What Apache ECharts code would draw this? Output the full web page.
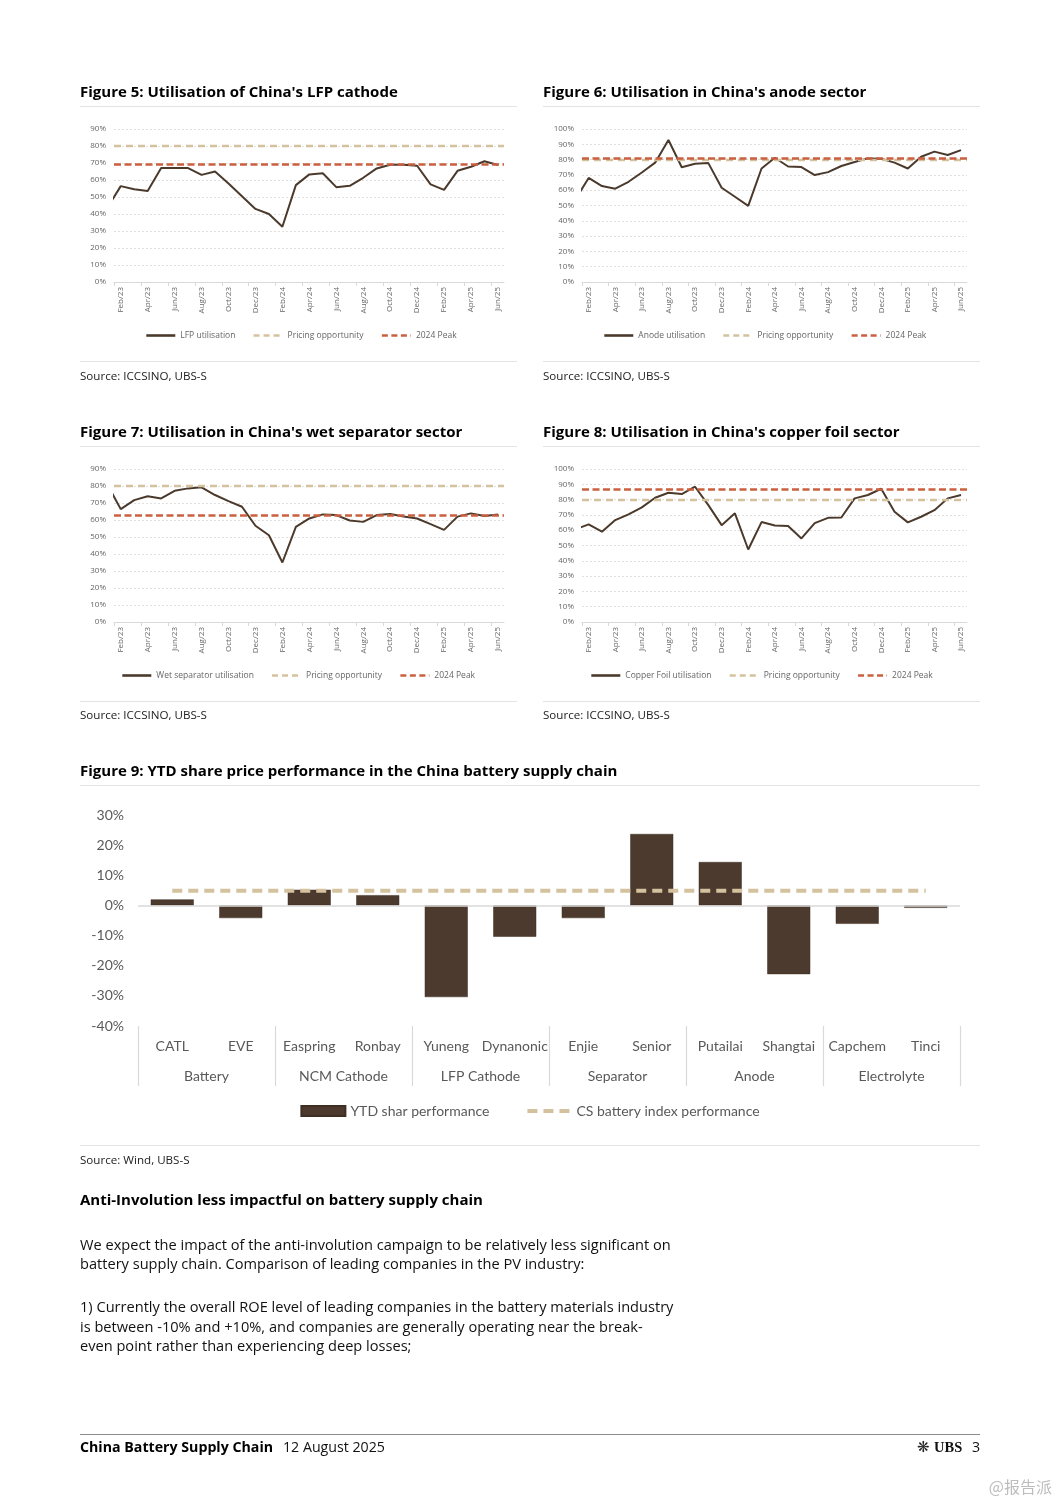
<!DOCTYPE html>
<html>
<head>
<meta charset="utf-8">
<script src="https://cdn.jsdelivr.net/npm/echarts@6/dist/echarts.min.js"></script>
<style>
html,body{margin:0;padding:0;background:#fff;}
#c{width:1060px;height:1500px;}
</style>
</head>
<body>
<div id="c"></div>
<script>
// ---------- DATA ----------
const months = ['Jan/23','Feb/23','Mar/23','Apr/23','May/23','Jun/23','Jul/23','Aug/23','Sep/23','Oct/23','Nov/23','Dec/23',
                'Jan/24','Feb/24','Mar/24','Apr/24','May/24','Jun/24','Jul/24','Aug/24','Sep/24','Oct/24','Nov/24','Dec/24',
                'Jan/25','Feb/25','Mar/25','Apr/25','May/25','Jun/25'];

const lfpUtil    = [43.5,56.4,54.6,53.5,67,67,67,63,65,58,50.5,43,40,32.5,57,63.3,64,55.8,56.6,61.3,66.8,69,69,68.4,57.4,54.2,65.4,67.8,71,68.8];
const anodeUtil  = [54,68,62.7,61,65.5,71.6,78,92.8,75,77.3,77.7,61.6,55.7,49.8,74.2,81.2,75.5,75.1,69.9,71.8,75.8,78.4,80.8,80.6,78,74.2,81.9,85.2,83,86.2];
const wetSepUtil = [81,66.4,71.7,74,72.7,77.2,78.6,79.2,74.7,71.1,67.8,56.6,51,35,56,60.9,63.3,62.9,59.7,58.9,62.9,63.5,62,60.9,57.6,54.2,62,63.9,62.3,63.3];
const copperUtil = [60.6,63.8,59,66.6,70.3,74.9,81.2,84.5,83.6,88.4,76.4,63.3,71,47.4,65.3,63.1,62.7,54.6,64.6,68.1,68.3,80.8,83,87.1,72,65.1,68.8,73.1,80.8,83];

const lfpPricing = 80,    lfpPeak = 69;
const anodePricing = 80,  anodePeak = 81;
const wetPricing = 80,    wetPeak = 63;
const copperPricing = 80, copperPeak = 87;

const companies = ['CATL','EVE','Easpring','Ronbay','Yuneng','Dynanonic','Enjie','Senior','Putailai','Shangtai','Capchem','Tinci'];
const sectors   = ['Battery','NCM Cathode','LFP Cathode','Separator','Anode','Electrolyte'];
const ytdPerf   = [2.0,-4.2,5.2,3.4,-30.4,-10.4,-4.2,23.7,14.4,-22.8,-6.1,-0.8];
const csIndexPerf = [4.9,4.9,4.9,4.9,4.9,4.9,4.9,4.9,4.9,4.9,4.9,4.9];

// ---------- STYLE ----------
const BROWN = '#4B3A2C', BEIGE = '#D4C29F', RED = '#C9603F', GRAY = '#595959', LIGHT = '#D9D9D9';
const FONT = 'Lato, "Noto Sans", sans-serif';
const PAGEFONT = '"Open Sans", "Noto Sans", sans-serif';
const SMALLFONT = '"Open Sans", "Noto Sans", sans-serif';

// font size fitted so that a reference line gets the width it has on the page
const mctx = document.createElement('canvas').getContext('2d');
function fitSize(text, weight, family, width){
  mctx.font = weight + ' 100px ' + family;
  return Math.round(100 * width / mctx.measureText(text).width * 10) / 10;
}
const titleSize = fitSize('Figure 9: YTD share price performance in the China battery supply chain', 'bold', PAGEFONT, 536);
const bodySize  = fitSize('We expect the impact of the anti-involution campaign to be relatively less significant on', 'normal', PAGEFONT, 591);
const srcSize   = fitSize('Source: ICCSINO, UBS-S', 'normal', PAGEFONT, 127);
const footSize  = fitSize('China Battery Supply Chain', 'bold', PAGEFONT, 193);

const labelVals = months.map((m,i)=>i).filter(i => i % 2 === 1);
const tickVals  = months.map((m,i)=>i + 0.5).filter((v,i) => i % 2 === 0);

const chart = echarts.init(document.getElementById('c'), null, {renderer:'canvas', width:1060, height:1500});

const smallGrids = [
  {left:114, top:129, width:390, height:153},
  {left:582, top:129, width:385, height:153},
  {left:114, top:469, width:390, height:153},
  {left:582, top:469, width:385, height:153}
];
const smallMax = [90, 100, 90, 100];
const smallDefs = [
  {name:'LFP utilisation', util:lfpUtil, pricing:lfpPricing, peak:lfpPeak, legendLeft:145, legendTop:331},
  {name:'Anode utilisation', util:anodeUtil, pricing:anodePricing, peak:anodePeak, legendLeft:603, legendTop:331},
  {name:'Wet separator utilisation', util:wetSepUtil, pricing:wetPricing, peak:wetPeak, legendLeft:121, legendTop:671},
  {name:'Copper Foil utilisation', util:copperUtil, pricing:copperPricing, peak:copperPeak, legendLeft:590, legendTop:671}
];

const UTIL_W = 2, PRICE_W = 2.3, PEAK_W = 2.7;
const PRICE_DASH = [7,5], PEAK_DASH = [7,3.5];

const grid = smallGrids.concat([{left:138, top:815, width:822, height:211}]);
const xAxis = [], yAxis = [], series = [], legend = [];

smallDefs.forEach((d, gi) => {
  xAxis.push({
    type:'value', gridIndex:gi, min:0.5, max:29.45,
    splitLine:{show:false},
    axisLine:{show:true, onZero:false, lineStyle:{color:LIGHT, width:1}},
    axisTick:{show:true, length:4, customValues:tickVals, lineStyle:{color:LIGHT}},
    axisLabel:{customValues:labelVals, formatter:v => months[Math.round(v)], rotate:90, fontSize:8, color:'#666', margin:5, fontFamily:SMALLFONT}
  });
  yAxis.push({
    type:'value', gridIndex:gi, min:0, max:smallMax[gi], interval:10,
    axisLine:{show:false}, axisTick:{show:false},
    axisLabel:{formatter:'{value}%', fontSize:8, color:'#666', margin:8, fontFamily:SMALLFONT},
    splitLine:{show:true, lineStyle:{color:LIGHT, type:[2,2], width:0.8}}
  });
  series.push({
    type:'line', name:d.name, xAxisIndex:gi, yAxisIndex:gi,
    data:d.util.map((v,i)=>[i,v]), symbol:'none', clip:true,
    lineStyle:{color:BROWN, width:UTIL_W}, itemStyle:{color:BROWN}, z:2
  });
  series.push({
    type:'line', name:'Pricing opportunity', xAxisIndex:gi, yAxisIndex:gi, data:[], symbol:'none',
    lineStyle:{color:BEIGE, width:PRICE_W, type:PRICE_DASH}, itemStyle:{color:BEIGE}, z:3,
    markLine:{silent:true, symbol:'none', label:{show:false}, data:[{yAxis:d.pricing}],
      lineStyle:{color:BEIGE, width:PRICE_W, type:PRICE_DASH}, emphasis:{disabled:true}}
  });
  series.push({
    type:'line', name:'2024 Peak', xAxisIndex:gi, yAxisIndex:gi, data:[], symbol:'none',
    lineStyle:{color:RED, width:PEAK_W, type:PEAK_DASH}, itemStyle:{color:RED}, z:4,
    markLine:{silent:true, symbol:'none', label:{show:false}, data:[{yAxis:d.peak}],
      lineStyle:{color:RED, width:PEAK_W, type:PEAK_DASH}, emphasis:{disabled:true}}
  });
  legend.push({
    data:[
      {name:d.name, lineStyle:{width:2.6, color:BROWN, type:'solid'}},
      {name:'Pricing opportunity', lineStyle:{width:PRICE_W, color:BEIGE, type:[6,4]}},
      {name:'2024 Peak', lineStyle:{width:PEAK_W, color:RED, type:[6,3.5]}}
    ],
    left:d.legendLeft, top:d.legendTop, padding:0,
    itemWidth:29, itemHeight:8, itemGap:17, selectedMode:false,
    itemStyle:{opacity:0},
    textStyle:{fontSize:8.5, color:'#666', fontFamily:SMALLFONT}
  });
});

// Figure 9
xAxis.push({
  type:'category', gridIndex:4, data:companies, position:'bottom',
  axisLine:{show:false}, axisTick:{show:false},
  axisLabel:{interval:0, fontSize:14, color:GRAY, margin:20, verticalAlign:'middle', fontFamily:FONT}
});
xAxis.push({
  type:'category', gridIndex:4, data:sectors, position:'bottom',
  axisLine:{show:false},
  axisTick:{show:true, interval:0, length:60, lineStyle:{color:LIGHT, width:1.2}},
  axisLabel:{interval:0, fontSize:14, color:GRAY, margin:50, verticalAlign:'middle', fontFamily:FONT}
});
yAxis.push({
  type:'value', gridIndex:4, min:-40, max:30, interval:10,
  axisLine:{show:false}, axisTick:{show:false}, splitLine:{show:false},
  axisLabel:{formatter:'{value}%', fontSize:14, color:GRAY, margin:14, fontFamily:FONT}
});
series.push({
  type:'bar', name:'YTD shar performance', xAxisIndex:4, yAxisIndex:4, data:ytdPerf,
  barWidth:43, itemStyle:{color:'#4B3A2D', borderColor:'#3E2F22', borderWidth:0.5}, z:2,
  markLine:{silent:true, symbol:'none', label:{show:false}, data:[{yAxis:0}],
    lineStyle:{color:LIGHT, width:1.5, type:'solid'}, emphasis:{disabled:true}}
});
series.push({
  type:'line', name:'CS battery index performance', xAxisIndex:4, yAxisIndex:4, data:csIndexPerf,
  symbol:'none', lineStyle:{color:BEIGE, width:4, type:[10,6]}, itemStyle:{color:BEIGE}, z:5
});
legend.push({
  data:[
    {name:'YTD shar performance', icon:'rect'},
    {name:'CS battery index performance', itemStyle:{opacity:0}, lineStyle:{width:4, color:BEIGE, type:[10,6]}}
  ],
  left:'center', top:1104, padding:0, itemWidth:44, itemHeight:10, itemGap:36, selectedMode:false,
  textStyle:{fontSize:14, color:GRAY, fontFamily:FONT}
});

// ---------- PAGE TEXT ----------
function txt(x, y, text, font, fill, align){
  return {type:'text', x:x, y:y, silent:true,
    style:{text:text, font:font, fill:fill || '#000', textAlign:align || 'left', textVerticalAlign:'middle'}};
}
function hline(x1, x2, y, color, w){
  return {type:'line', silent:true, shape:{x1:x1, y1:y, x2:x2, y2:y}, style:{stroke:color, lineWidth:w || 1}};
}
const TITLE = 'bold ' + titleSize + 'px ' + PAGEFONT;
const SRC = srcSize + 'px ' + PAGEFONT;
const BODY = bodySize + 'px ' + PAGEFONT;

const graphic = [
  txt(80, 93, "Figure 5: Utilisation of China's LFP cathode", TITLE),
  txt(543, 93, "Figure 6: Utilisation in China's anode sector", TITLE),
  hline(80, 517, 106.5, '#E3E3E3'), hline(543, 980, 106.5, '#E3E3E3'),
  hline(80, 517, 361.5, '#E3E3E3'), hline(543, 980, 361.5, '#E3E3E3'),
  txt(80, 377, 'Source: ICCSINO, UBS-S', SRC, '#222'),
  txt(543, 377, 'Source: ICCSINO, UBS-S', SRC, '#222'),

  txt(80, 433, "Figure 7: Utilisation in China's wet separator sector", TITLE),
  txt(543, 433, "Figure 8: Utilisation in China's copper foil sector", TITLE),
  hline(80, 517, 446.5, '#E3E3E3'), hline(543, 980, 446.5, '#E3E3E3'),
  hline(80, 517, 701.5, '#E3E3E3'), hline(543, 980, 701.5, '#E3E3E3'),
  txt(80, 716, 'Source: ICCSINO, UBS-S', SRC, '#222'),
  txt(543, 716, 'Source: ICCSINO, UBS-S', SRC, '#222'),

  txt(80, 772, 'Figure 9: YTD share price performance in the China battery supply chain', TITLE),
  hline(80, 980, 785.5, '#E3E3E3'),
  hline(80, 980, 1145.5, '#E3E3E3'),
  txt(80, 1161, 'Source: Wind, UBS-S', SRC, '#222'),

  txt(80, 1201, 'Anti-Involution less impactful on battery supply chain', TITLE),
  txt(80, 1246, 'We expect the impact of the anti-involution campaign to be relatively less significant on', BODY, '#111'),
  txt(80, 1265, 'battery supply chain. Comparison of leading companies in the PV industry:', BODY, '#111'),
  txt(80, 1308, '1) Currently the overall ROE level of leading companies in the battery materials industry', BODY, '#111'),
  txt(80, 1328, 'is between -10% and +10%, and companies are generally operating near the break-', BODY, '#111'),
  txt(80, 1347, 'even point rather than experiencing deep losses;', BODY, '#111'),

  hline(80, 980, 1434.5, '#8C8C8C'),
  txt(80, 1448, 'China Battery Supply Chain', 'bold ' + footSize + 'px ' + PAGEFONT, '#000'),
  txt(283, 1448, '12 August 2025', footSize + 'px ' + PAGEFONT, '#111'),
  txt(917, 1448, '\u274B', '15px "DejaVu Sans"', '#222'),
  txt(934, 1448, 'UBS', 'bold 14.5px "Liberation Serif"', '#111'),
  txt(980, 1448, '3', footSize + 'px ' + PAGEFONT, '#111', 'right'),
  txt(1052, 1487, '@报告派', '16px "Noto Sans CJK SC"', '#BDBDBD', 'right')
];

chart.setOption({
  animation:false,
  backgroundColor:'#fff',
  textStyle:{fontFamily:FONT},
  grid:grid, xAxis:xAxis, yAxis:yAxis, series:series, legend:legend, graphic:graphic
});
</script>
</body>
</html>
